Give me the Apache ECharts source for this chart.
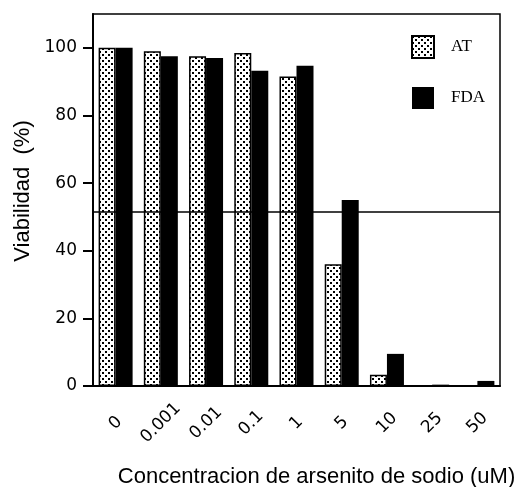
<!DOCTYPE html>
<html>
<head>
    <meta charset="utf-8">
    <title>Viabilidad</title>
    <script src="https://cdn.jsdelivr.net/npm/echarts@6/dist/echarts.min.js"></script>
    <style>
        html, body { margin: 0; padding: 0; background: #fff; }
        #echarts { width: 522px; height: 487px; }
    </style>
</head>
<body>
<div id="echarts"></div>
<script>
    // concentraciones de arsenito de sodio (uM)
    var categories = ['0', '0.001', '0.01', '0.1', '1', '5', '10', '25', '50'];
    // viabilidad (%) por metodo
    var atValues = [100, 99, 97.5, 98.5, 91.5, 36, 3.3, 0.2, 0];
    var fdaValues = [100, 97.5, 97, 93.2, 94.7, 55, 9.5, 0.4, 1.5];
    var yTicks = [0, 20, 40, 60, 80, 100];
    var cutoff = 51.5;

    // trama punteada para AT
    var makeDots = function () {
        var c = document.createElement('canvas');
        c.width = 6;
        c.height = 6;
        var ctx = c.getContext('2d');
        ctx.fillStyle = '#fff';
        ctx.fillRect(0, 0, 6, 6);
        ctx.fillStyle = '#000';
        ctx.fillRect(0, 0, 2, 2);
        ctx.fillRect(3, 3, 2, 2);
        return c;
    };
    var dots = {image: makeDots(), repeat: 'repeat'};

    var numFont = 'DejaVu Sans';
    var myChart = echarts.init(document.getElementById('echarts'));
    var option = {
        animation: false,
        backgroundColor: '#fff',
        grid: {
            left: 93, right: 22, top: 14, bottom: 101,
            outerBoundsMode: 'none',
            show: true, borderColor: '#000', borderWidth: 1.5
        },
        legend: {
            orient: 'vertical',
            left: 406, top: 30,
            itemWidth: 22, itemHeight: 22, itemGap: 28,
            icon: 'rect',
            textStyle: {fontFamily: 'Liberation Serif', fontSize: 17, color: '#000', padding: [0, 0, 0, 12]},
            data: ['AT', 'FDA']
        },
        xAxis: {
            type: 'category',
            data: categories,
            name: 'Concentracion de arsenito de sodio (uM)',
            nameLocation: 'middle',
            nameGap: 80,
            nameTextStyle: {fontFamily: 'Liberation Sans', fontSize: 22, color: '#000', padding: [0, 0, 0, 40]},
            axisLine: {lineStyle: {color: '#000', width: 2}},
            axisTick: {alignWithLabel: true, length: 12, lineStyle: {color: '#000', width: 2}},
            axisLabel: {
                rotate: 45, align: 'center', verticalAlign: 'middle', margin: 37,
                padding: [12, 0, 0, 0],
                fontFamily: numFont, fontSize: 17, color: '#000'
            }
        },
        yAxis: {
            type: 'value',
            min: 0, max: 110, interval: 20,
            name: 'Viabilidad  (%)',
            nameLocation: 'middle',
            nameGap: 58,
            nameTextStyle: {fontFamily: 'Liberation Sans', fontSize: 22, color: '#000', padding: [0, 0, 0, 18]},
            splitLine: {show: false},
            axisLine: {show: true, lineStyle: {color: '#000', width: 2}},
            axisTick: {show: true, length: 10, customValues: yTicks, lineStyle: {color: '#000', width: 2}},
            axisLabel: {margin: 16, customValues: yTicks, fontFamily: numFont, fontSize: 17, color: '#000'}
        },
        series: [{
            name: 'AT',
            type: 'bar',
            data: atValues,
            barWidth: 17,
            barGap: '0%',
            itemStyle: {color: dots, borderColor: '#000', borderWidth: 1.5},
            markLine: {
                silent: true,
                symbol: 'none',
                label: {show: false},
                lineStyle: {color: '#000', width: 1.5, type: 'solid'},
                data: [{yAxis: cutoff}]
            }
        }, {
            name: 'FDA',
            type: 'bar',
            data: fdaValues,
            barWidth: 17,
            itemStyle: {color: '#000'}
        }]
    };
    myChart.setOption(option);
</script>
</body>
</html>
